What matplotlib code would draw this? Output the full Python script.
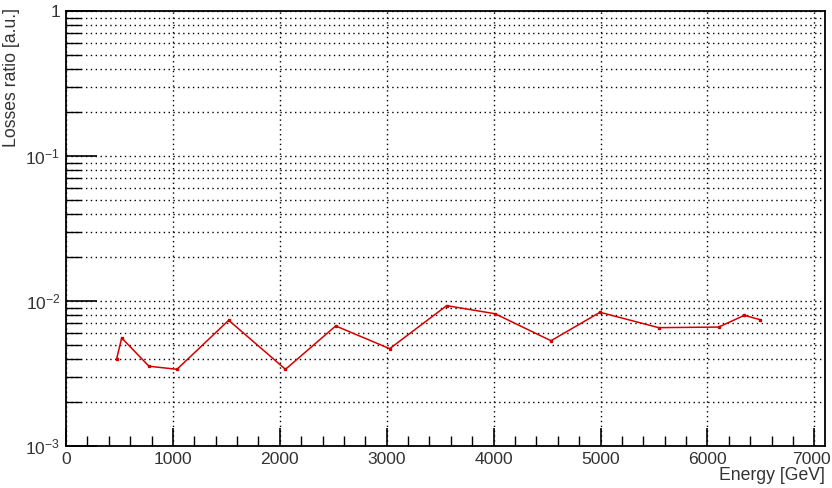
import matplotlib
matplotlib.use("Agg")
import matplotlib.pyplot as plt
import matplotlib.transforms as mtransforms
from matplotlib.ticker import FixedLocator, LogLocator, MultipleLocator, NullFormatter

energy = [474, 521, 776, 1038, 1522, 2053, 2523, 3028, 3561, 4013, 4537, 4995, 5544, 6105, 6345, 6495]
ratio = [0.0040, 0.00556, 0.00355, 0.00338, 0.00736, 0.00338, 0.00673, 0.00469, 0.00929,
         0.00817, 0.00532, 0.00836, 0.00655, 0.00661, 0.00796, 0.00743]
ytick_vals = [1e-3, 1e-2, 1e-1, 1]
ytick_labels = ['10$^{-3}$', '10$^{-2}$', '10$^{-1}$', '1']
xtick_vals = [0, 1000, 2000, 3000, 4000, 5000, 6000, 7000]

plt.rcParams['font.family'] = ['Liberation Sans', 'DejaVu Sans']
plt.rcParams['mathtext.fontset'] = 'custom'
plt.rcParams['mathtext.rm'] = 'Liberation Sans'
plt.rcParams['mathtext.default'] = 'regular'

fig = plt.figure(figsize=(8.32, 4.88), dpi=100)
ax = fig.add_axes([66/832, 42/488, (825-66)/832, (446-11)/488])

ax.plot(energy, ratio, color='#d40000', lw=1.1, marker='s', ms=2.0, mec='#d40000', mfc='#d40000')

ax.set_yscale('log')
ax.set_xlim(0, 7100)
ax.set_ylim(1e-3, 1)

ax.yaxis.set_major_locator(FixedLocator(ytick_vals))
ax.set_yticklabels(ytick_labels)
ax.yaxis.set_minor_locator(LogLocator(base=10, subs=[2, 3, 4, 5, 6, 7, 8, 9]))
ax.yaxis.set_minor_formatter(NullFormatter())
ax.xaxis.set_major_locator(FixedLocator(xtick_vals))
ax.set_xticklabels([str(v) for v in xtick_vals])
ax.xaxis.set_minor_locator(MultipleLocator(200))

ax.grid(True, which='major', axis='both', color='black', linestyle=(0, (1, 2.5)), lw=1.0)
ax.grid(True, which='minor', axis='y', color='black', linestyle=(0, (1, 2.5)), lw=1.0)

ax.tick_params(which='major', direction='in', length=13, width=1.2, top=False, right=False,
               labelsize=12.6, labelcolor='#333333', pad=4)
ax.tick_params(axis='y', which='major', length=22)
ax.tick_params(which='minor', direction='in', length=7, width=1.0, top=False, right=False)
ax.tick_params(axis='y', which='minor', length=11)

# keep the last x tick label fully inside the figure
last = ax.get_xticklabels()[-1]
last.set_transform(last.get_transform() + mtransforms.ScaledTranslation(-3/100, 0, fig.dpi_scale_trans))

for s in ax.spines.values():
    s.set_linewidth(1.3)

ax.set_xlabel('Energy [GeV]', fontsize=12.7, color='#333333', loc='right', labelpad=0)
ax.set_ylabel('Losses ratio [a.u.]', fontsize=12.7, color='#333333')
ax.yaxis.label.set_horizontalalignment('right')
ax.yaxis.label.set_verticalalignment('center')
ax.yaxis.set_label_coords(-54/759, 1.007)

fig.savefig('out.png', dpi=100)
